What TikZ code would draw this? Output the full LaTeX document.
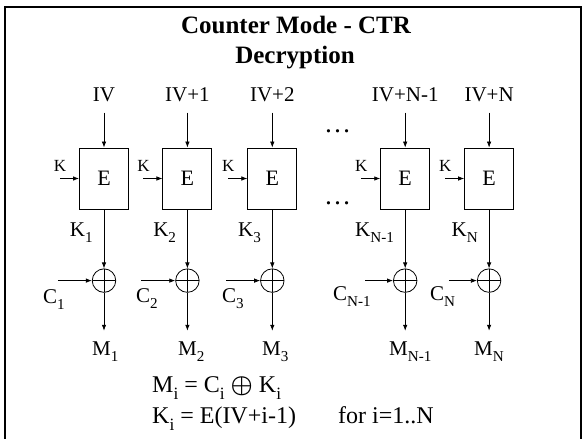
\documentclass[tikz,border=0pt]{standalone}
\usepackage{fontspec}
\setmainfont{Liberation Serif}
\usetikzlibrary{arrows.meta,positioning}
\makeatletter
\newcommand{\lsub}[1]{\raisebox{-0.3em}{\fontsize{\fpeval{0.72*\f@size}}{0}\selectfont #1}}
\makeatother

\begin{document}
\begin{tikzpicture}[x=1pt,y=-1pt,
  font=\fontsize{21}{25}\selectfont,
  node distance=34pt,
  ttl/.style={anchor=base,inner sep=0pt,font=\bfseries\fontsize{25}{30}\selectfont},
  enc/.style={draw,line width=0.9pt,minimum width=49pt,minimum height=61pt,inner sep=0pt,font=\fontsize{22}{26}\selectfont},
  xor/.style={draw,circle,line width=0.8pt,minimum size=23.5pt,inner sep=0pt,
    path picture={\draw[line width=0.8pt] (path picture bounding box.north) -- (path picture bounding box.south)
      (path picture bounding box.west) -- (path picture bounding box.east);}},
  ivlbl/.style={inner xsep=0pt,inner ysep=11pt,text depth=0pt},
  klbl/.style={inner sep=0pt,text depth=0pt,font=\fontsize{17}{20}\selectfont},
  ki/.style={anchor=base east,inner xsep=11pt,inner ysep=0pt},
  lbl/.style={anchor=base west,inner sep=0pt},
  eqn/.style={anchor=base west,inner sep=0pt,font=\fontsize{24}{28}\selectfont},
  arr/.style={-{Latex[length=6pt,width=4.5pt]},line width=0.7pt}]
\useasboundingbox (0,0) rectangle (584,439);
\draw[line width=1.8pt] (5,7) rectangle (581,450);
\node[ttl] (ttl1) at (296,34) {Counter Mode - CTR};
\node[ttl] (ttl2) at (295,63) {Decryption};
\node[enc] (e1) at (104,178.5) {E};
\node[enc,right=33.5pt of e1] (e2) {E};
\node[enc,right=35pt of e2] (e3) {E};
\node[enc,right=83pt of e3] (e4) {E};
\node[enc,right=34pt of e4] (e5) {E};
\node[ivlbl,above=35pt of e1] (iv1) {IV};
\node[ivlbl,above=35pt of e2] (iv2) {IV+1};
\node[ivlbl,above=35pt of e3] (iv3) {IV+2};
\node[ivlbl,above=35pt of e4] (iv4) {IV+N-1};
\node[ivlbl,above=35pt of e5] (iv5) {IV+N};
\draw[arr] (iv1) -- (e1); \draw[arr] (iv2) -- (e2); \draw[arr] (iv3) -- (e3);
\draw[arr] (iv4) -- (e4); \draw[arr] (iv5) -- (e5);
\node[anchor=base,inner sep=0pt,font=\fontsize{27}{30}\selectfont] (dots1) at (337.5,132) {\ldots};
\node[anchor=base,inner sep=0pt,font=\fontsize{27}{30}\selectfont] (dots2) at (337.5,204) {\ldots};
\coordinate[left=19pt of e1] (ka1); \coordinate[left=19pt of e2] (ka2);
\coordinate[left=19pt of e3] (ka3); \coordinate[left=19pt of e4] (ka4);
\coordinate[left=19pt of e5] (ka5);
\node[klbl,above=7pt of ka1] (k1) {K};
\node[klbl,above=7pt of ka2] (k2) {K};
\node[klbl,above=7pt of ka3] (k3) {K};
\node[klbl,above=7pt of ka4] (k4) {K};
\node[klbl,above=7pt of ka5] (k5) {K};
\draw[arr] (ka1) -- (e1); \draw[arr] (ka2) -- (e2); \draw[arr] (ka3) -- (e3);
\draw[arr] (ka4) -- (e4); \draw[arr] (ka5) -- (e5);
\node[xor,below=59pt of e1] (x1) {};
\node[xor,below=59pt of e2] (x2) {};
\node[xor,below=59pt of e3] (x3) {};
\node[xor,below=59pt of e4] (x4) {};
\node[xor,below=59pt of e5] (x5) {};
\draw[arr] (e1) -- node[pos=0.46,ki] {K\lsub{1}} (x1);
\draw[arr] (e2) -- node[pos=0.46,ki] {K\lsub{2}} (x2);
\draw[arr] (e3) -- node[pos=0.46,ki] {K\lsub{3}} (x3);
\draw[arr] (e4) -- node[pos=0.46,ki] {K\lsub{N-1}} (x4);
\draw[arr] (e5) -- node[pos=0.46,ki] {K\lsub{N}} (x5);
\coordinate[left=34pt of x1] (ca1); \coordinate[left=34pt of x2] (ca2);
\coordinate[left=34pt of x3] (ca3); \coordinate[left=28pt of x4] (ca4);
\coordinate[left=28pt of x5] (ca5);
\draw[arr] (ca1) -- (x1); \draw[arr] (ca2) -- (x2); \draw[arr] (ca3) -- (x3);
\draw[arr] (ca4) -- (x4); \draw[arr] (ca5) -- (x5);
\node[lbl] (c1) at (43,303) {C\lsub{1}};
\node[lbl] (c2) at (136,302) {C\lsub{2}};
\node[lbl] (c3) at (222,302) {C\lsub{3}};
\node[lbl] (c4) at (333,300) {C\lsub{N-1}};
\node[lbl] (c5) at (430,300) {C\lsub{N}};
\coordinate[below=38pt of x1] (mo1); \coordinate[below=38pt of x2] (mo2);
\coordinate[below=38pt of x3] (mo3); \coordinate[below=38pt of x4] (mo4);
\coordinate[below=38pt of x5] (mo5);
\draw[arr] (x1) -- (mo1); \draw[arr] (x2) -- (mo2); \draw[arr] (x3) -- (mo3);
\draw[arr] (x4) -- (mo4); \draw[arr] (x5) -- (mo5);
\node[lbl] (m1) at (92,355) {M\lsub{1}};
\node[lbl] (m2) at (178,355) {M\lsub{2}};
\node[lbl] (m3) at (262,355) {M\lsub{3}};
\node[lbl] (m4) at (389,355) {M\lsub{N-1}};
\node[lbl] (m5) at (474,355) {M\lsub{N}};
\node[eqn] (eq1) at (152,392) {M\lsub{i} = C\lsub{i} {\fontsize{27}{27}\selectfont\boldmath$\oplus$} K\lsub{i}};
\node[eqn] (eq2) at (152,423) {K\lsub{i} = E(IV+i-1)};
\node[eqn] (eq3) at (338,423) {for i=1..N};
\end{tikzpicture}
\end{document}
